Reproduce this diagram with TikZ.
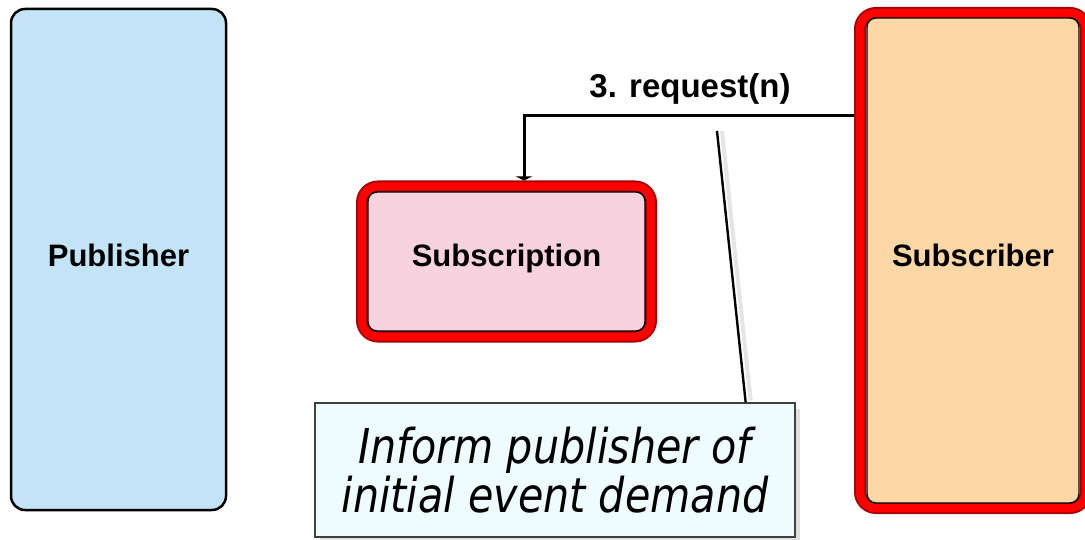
\documentclass[tikz,border=0pt]{standalone}
\usepackage{fontspec}
\setmainfont{Liberation Sans}
\newfontfamily\callfont[FakeStretch=0.86]{DejaVu Sans}
\usetikzlibrary{arrows.meta}

\definecolor{pubfill}{HTML}{C2E4F6}
\definecolor{subnfill}{HTML}{F8D2DE}
\definecolor{subrfill}{HTML}{FDD8A6}
\definecolor{notefill}{HTML}{EEFCFD}
\definecolor{bandred}{HTML}{FF0000}
\definecolor{banddark}{HTML}{A80000}

\tikzset{
  boxlabel/.style={font=\bfseries\fontsize{31}{36}\selectfont, text=black},
  plainbox/.style={draw=black, line width=2.5pt, fill=pubfill,
    rounded corners=14pt, inner sep=0pt},
  redbox/.style={draw=banddark, line width=12pt, rounded corners=16pt,
    inner sep=0pt, postaction={draw=bandred, line width=8pt}},
  innerline/.style={draw=black, line width=1.4pt, rounded corners=9pt},
  msg/.style={line width=3pt, draw=black},
  msgtip/.style={-{Triangle[width=16pt,length=4pt]}},
  note/.style={draw=black!75, line width=1.3pt, fill=notefill, inner sep=0pt,
    font=\callfont\itshape\fontsize{48}{49}\selectfont, align=center},
  pointer/.style={line width=2.4pt, draw=black},
}

\begin{document}
\begin{tikzpicture}[x=1pt, y=-1pt]
  \useasboundingbox (0,0) rectangle (1085,540);
  \clip (0,0) rectangle (1085,540);

  % Publisher
  \node[plainbox, minimum width=215pt, minimum height=501pt] (pub) at (118.5,259.5) {};
  \node[boxlabel] (publbl) at ([yshift=4pt]pub.center) {Publisher};

  % Subscription (red band, inner outline, label)
  \node[redbox, minimum width=289pt, minimum height=150pt] (subn) at (506.5,261.5) {};
  \draw[innerline, fill=subnfill] (368,192) rectangle (645,331);
  \node[boxlabel] (subnlbl) at ([yshift=3pt]subn.center) {Subscription};

  % Subscriber (red band, inner outline, label)
  \node[redbox, minimum width=226pt, minimum height=495pt] (subr) at (973,260.5) {};
  \draw[innerline, fill=subrfill] (867,18) rectangle (1079,503);
  \node[boxlabel] (subrlbl) at ([yshift=5pt]subr.center) {Subscriber};

  % request(n) from Subscriber to Subscription
  \coordinate (elbow) at (524,116);
  \draw[msg, msgtip] (subr.west |- elbow) -- (elbow) -- (elbow |- subn.north);
  \node[font=\bfseries\fontsize{33}{38}\selectfont] (reqlbl) at (690,89) {3. request(n)};

  % Note with pointer
  \coordinate (ptip) at (717,131);
  \fill[black!12] (320,409) rectangle (800,545);
  \node[note, minimum width=480pt, minimum height=134pt] (note) at (555,470)
    {Inform publisher of\\initial event demand};
  \draw[black!10, line width=4pt] ([xshift=5pt]ptip) -- ([xshift=-45pt,yshift=2pt]note.north east);
  \draw[pointer] (ptip) -- ([xshift=-50pt]note.north east);
\end{tikzpicture}
\end{document}
